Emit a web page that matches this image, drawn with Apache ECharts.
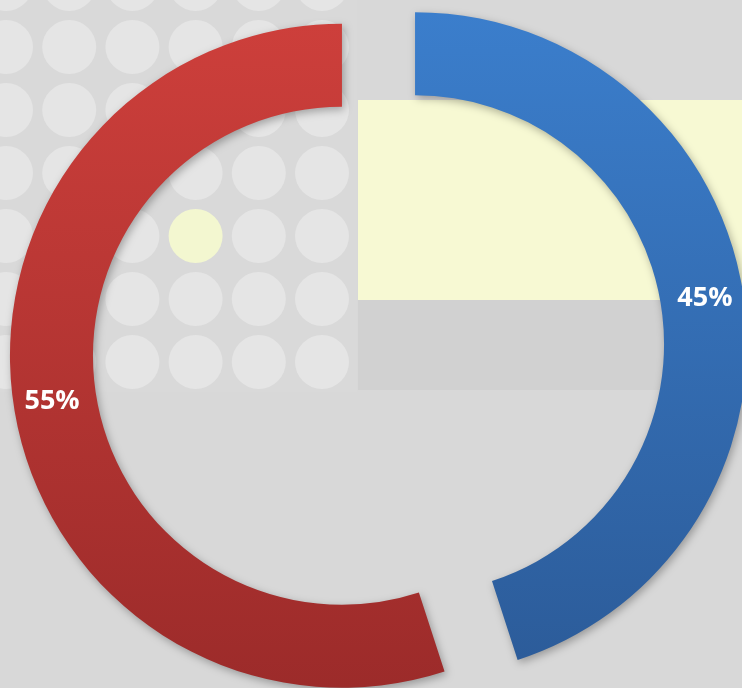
<!DOCTYPE html>
<html>
<head>
<meta charset="utf-8">
<script src="https://cdn.jsdelivr.net/npm/echarts@6/dist/echarts.min.js"></script>
<style>
  html, body { margin: 0; padding: 0; background: #d8d8d8; }
  #main { width: 742px; height: 688px; }
</style>
</head>
<body>
<div id="main"></div>
<script>
var names = ['A', 'B'];
var values = [45, 55];
var topColors = ['#3b7ecc', '#cd3f3b'];
var bottomColors = ['#2c5c9a', '#9c2b2a'];

var chart = echarts.init(document.getElementById('main'));

// background decoration: dotted panel, yellow and grey blocks
var deco = [];
deco.push({ type: 'rect', shape: { x: 0, y: 0, width: 357, height: 392 }, style: { fill: '#d9d9d9' }, z: -10 });
for (var r = 0; r < 7; r++) {
    for (var c = 0; c < 6; c++) {
        var yellow = (r === 4 && c === 3);
        deco.push({
            type: 'circle',
            shape: { cx: 6 + c * 63.2, cy: -16 + r * 63, r: 27 },
            style: { fill: yellow ? '#f3f7d0' : '#e5e5e5' },
            z: -9
        });
    }
}
deco.push({ type: 'rect', shape: { x: 358, y: 100, width: 384, height: 200 }, style: { fill: '#f7f9d3' }, z: -9 });
deco.push({ type: 'rect', shape: { x: 358, y: 300, width: 384, height: 90 }, style: { fill: '#d1d1d1' }, z: -9 });

var data = [];
for (var i = 0; i < names.length; i++) {
    data.push({
        name: names[i],
        value: values[i],
        selected: true,
        itemStyle: {
            color: new echarts.graphic.LinearGradient(0, 0, 0, 1, [
                { offset: 0, color: topColors[i] },
                { offset: 1, color: bottomColors[i] }
            ])
        }
    });
}

chart.setOption({
    backgroundColor: '#d8d8d8',
    animation: false,
    graphic: deco,
    series: [{
        type: 'pie',
        center: [378.5, 350],
        radius: [249, 332],
        startAngle: 90,
        clockwise: true,
        selectedMode: 'multiple',
        selectedOffset: 37,
        silent: true,
        itemStyle: {
            shadowBlur: 8,
            shadowOffsetX: 2,
            shadowOffsetY: 3,
            shadowColor: 'rgba(0,0,0,0.3)'
        },
        label: {
            show: true,
            position: 'inside',
            formatter: '{d}%',
            color: '#ffffff',
            fontFamily: 'Open Sans',
            fontWeight: 'bold',
            fontSize: 27
        },
        labelLine: { show: false },
        emphasis: { disabled: true },
        data: data
    }]
});
</script>
</body>
</html>
